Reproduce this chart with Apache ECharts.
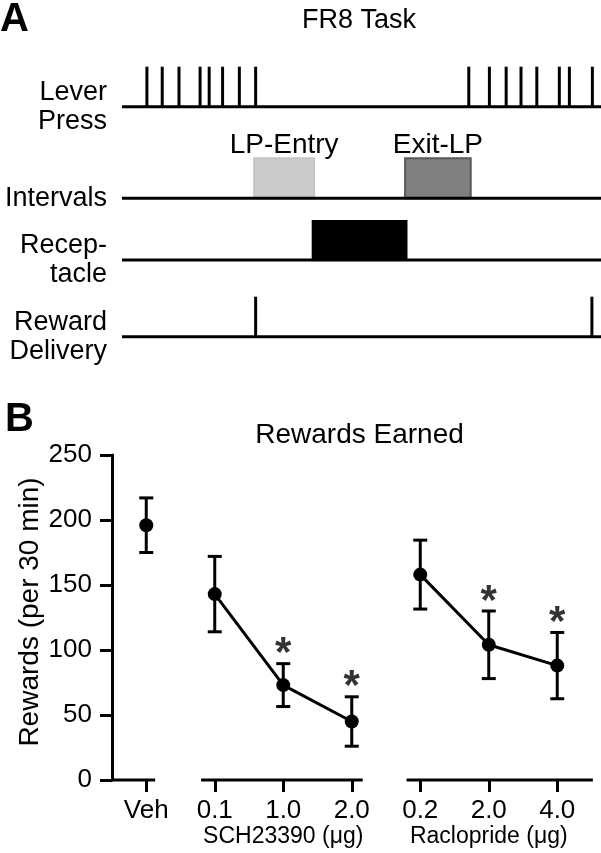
<!DOCTYPE html>
<html><head><meta charset="utf-8">
<script src="https://cdn.jsdelivr.net/npm/echarts@6/dist/echarts.min.js"></script>
<style>html,body{margin:0;padding:0;background:#fff}#c{width:601px;height:853px}</style>
</head><body><div id="c"></div>
<script>
// ---------- Panel A data (schematic time, 0-100) ----------
const leverPressTimes = [5.2, 8.4, 11.9, 16.3, 18.2, 21.0, 24.5, 27.9, 72.4, 76.7, 80.2, 83.3, 86.6, 91.3, 93.4, 98.2];
const intervalNames = ['LP-Entry', 'Exit-LP'];
const intervalStarts = [27.6, 59.1];
const intervalEnds = [40.1, 72.8];
const receptacleStarts = [39.6];
const receptacleEnds = [59.6];
const rewardTimes = [27.9, 98.1];
const rowLabels = ['Lever\nPress', 'Intervals', 'Recep-\ntacle', 'Reward\nDelivery'];

// ---------- Panel B data ----------
const doseLabels = ['Veh', '0.1', '1.0', '2.0', '0.2', '2.0', '4.0'];
const groupLabels = ['', '', 'SCH23390 (μg)', '', '', 'Raclopride (μg)', ''];
const rewardMeans = [196, 143, 73, 45, 158, 104, 88];
const rewardSEM = [21, 29, 16.5, 19, 26.5, 26, 25.5];
const significant = [false, false, true, true, false, true, true];
const doseGroups = [[0], [1, 2, 3], [4, 5, 6]];
const yTickValues = [0, 50, 100, 150, 200, 250];

// ---------- layout / style constants ----------
const FONT = '"Liberation Sans", Arial, Helvetica, sans-serif';
const rowY = [106.7, 198.3, 260, 336.7];   // baseline positions of panel A rows (px space of grid A)
const MARK_H = 40;
const segPad = [[0.5, 0.13], [0.2, 0.16], [0.2, 0.52]];
const intervalFill = ['#cccccc', '#808080'];
const intervalStroke = ['#c4c4c4', '#585858'];

const chart = echarts.init(document.getElementById('c'));

function ln(x1, y1, x2, y2, w) {
  return {type: 'line', shape: {x1, y1, x2, y2}, style: {stroke: '#000', lineWidth: w || 3}};
}
function tx(text, x, y, size, align, extra) {
  return {type: 'text', style: Object.assign({
    text, x, y, font: size + 'px ' + FONT, fill: '#000',
    align: align, textAlign: align, verticalAlign: 'middle', textVerticalAlign: 'middle'
  }, extra || {})};
}

const series = [];

// Panel A: row baselines + labels
series.push({
  type: 'custom', xAxisIndex: 2, yAxisIndex: 1, silent: true, z: 4,
  data: rowLabels.map((l, i) => [0, i]),
  renderItem(params, api) {
    const i = api.value(1);
    const p0 = api.coord([0, rowY[i]]), p1 = api.coord([100, rowY[i]]);
    return {type: 'group', children: [
      ln(p0[0], p0[1], p1[0] + 2, p1[1], 3),
      tx(rowLabels[i], p0[0] - 15, p0[1], 27, 'right', {lineHeight: 29})
    ]};
  }
});
// Lever presses
series.push({
  type: 'custom', xAxisIndex: 2, yAxisIndex: 1, silent: true, z: 3,
  data: leverPressTimes.map(t => [t, 0]),
  renderItem(params, api) {
    const p = api.coord([api.value(0), rowY[api.value(1)]]);
    return ln(p[0], p[1], p[0], p[1] - MARK_H, 3);
  }
});
// Intervals
series.push({
  type: 'custom', xAxisIndex: 2, yAxisIndex: 1, silent: true, z: 2,
  data: intervalStarts.map((s, i) => [s, intervalEnds[i], i]),
  renderItem(params, api) {
    const i = api.value(2);
    const a = api.coord([api.value(0), rowY[1]]), b = api.coord([api.value(1), rowY[1]]);
    return {type: 'group', children: [
      {type: 'rect', shape: {x: a[0], y: a[1] - MARK_H, width: b[0] - a[0], height: MARK_H},
       style: {fill: intervalFill[i], stroke: intervalStroke[i], lineWidth: 2}},
      tx(intervalNames[i], (a[0] + b[0]) / 2, a[1] - MARK_H - 13, 28, 'center')
    ]};
  }
});
// Receptacle
series.push({
  type: 'custom', xAxisIndex: 2, yAxisIndex: 1, silent: true, z: 2,
  data: receptacleStarts.map((s, i) => [s, receptacleEnds[i]]),
  renderItem(params, api) {
    const a = api.coord([api.value(0), rowY[2]]), b = api.coord([api.value(1), rowY[2]]);
    return {type: 'rect', shape: {x: a[0], y: a[1] - MARK_H, width: b[0] - a[0], height: MARK_H},
      style: {fill: '#000'}};
  }
});
// Reward delivery
series.push({
  type: 'custom', xAxisIndex: 2, yAxisIndex: 1, silent: true, z: 3,
  data: rewardTimes.map(t => [t, 3]),
  renderItem(params, api) {
    const p = api.coord([api.value(0), rowY[api.value(1)]]);
    return ln(p[0], p[1], p[0], p[1] - MARK_H, 3);
  }
});

// Panel B: axis segments
doseGroups.forEach((g, k) => {
  series.push({
    type: 'line', xAxisIndex: 1, yAxisIndex: 0, silent: true, clip: false, symbol: 'none', z: 3,
    lineStyle: {color: '#000', width: 3},
    data: [[g[0] - segPad[k][0], 0], [g[g.length - 1] + segPad[k][1], 0]]
  });
});
// error bars
series.push({
  type: 'custom', xAxisIndex: 1, yAxisIndex: 0, silent: true, z: 4,
  encode: {x: 0, y: 1},
  data: rewardMeans.map((m, i) => [i, m, rewardSEM[i]]),
  renderItem(params, api) {
    const x = api.value(0), m = api.value(1), e = api.value(2);
    const t = api.coord([x, m + e]), b = api.coord([x, m - e]);
    const hw = 7;
    return {type: 'group', children: [
      ln(t[0], t[1], b[0], b[1], 3),
      ln(t[0] - hw, t[1], t[0] + hw, t[1], 3),
      ln(b[0] - hw, b[1], b[0] + hw, b[1], 3)
    ]};
  }
});
// means + connecting lines
doseGroups.forEach(g => {
  series.push({
    type: 'line', xAxisIndex: 1, yAxisIndex: 0, silent: true, z: 5,
    symbol: 'circle', symbolSize: 14, showSymbol: true,
    itemStyle: {color: '#000'}, lineStyle: {color: '#000', width: 3},
    data: g.map(i => [i, rewardMeans[i]])
  });
});
// significance asterisks
series.push({
  type: 'scatter', xAxisIndex: 1, yAxisIndex: 0, silent: true, z: 6,
  symbolSize: 1, itemStyle: {color: 'rgba(0,0,0,0)'},
  data: rewardMeans.map((m, i) => significant[i] ? [i, m + rewardSEM[i]] : null).filter(d => d),
  label: {show: true, position: 'inside', formatter: '*', fontSize: 42, fontWeight: 'bold', fontFamily: FONT, color: '#000', offset: [0, -9]}
});

const yName = tx('Rewards (per 30 min)', 0, 0, 28, 'center');
yName.x = 30; yName.y = 612; yName.rotation = Math.PI / 2;

const option = {
  animation: false,
  backgroundColor: '#fff',
  grid: [
    {left: 112, top: 455, width: 479.5, height: 325},
    {left: 122, top: 0, width: 479, height: 360}
  ],
  xAxis: [
    {type: 'category', gridIndex: 0, data: doseLabels, boundaryGap: true,
     axisLine: {show: false, onZero: false},
     axisTick: {show: true, alignWithLabel: true, interval: 0, length: 12, lineStyle: {color: '#000', width: 3}},
     axisLabel: {interval: 0, margin: 18, fontSize: 26, lineHeight: 26, color: '#000', fontFamily: FONT,
       formatter: (v, idx) => groupLabels[idx] ? v + '\n{sub|' + groupLabels[idx] + '}' : v,
       rich: {sub: {fontSize: 23, lineHeight: 26, color: '#000', fontFamily: FONT}}},
     splitLine: {show: false}},
    {type: 'value', gridIndex: 0, min: -0.5, max: 6.5, show: false, axisLine: {onZero: false}},
    {type: 'value', gridIndex: 1, min: 0, max: 100, show: false, axisLine: {onZero: false}}
  ],
  yAxis: [
    {type: 'value', gridIndex: 0, min: yTickValues[0], max: yTickValues[yTickValues.length - 1], interval: 50,
     axisLine: {show: true, onZero: false, lineStyle: {color: '#000', width: 3}},
     axisTick: {show: true, length: 12, lineStyle: {color: '#000', width: 3}},
     axisLabel: {margin: 20, fontSize: 26, color: '#000', fontFamily: FONT},
     splitLine: {show: false}},
    {type: 'value', gridIndex: 1, min: 0, max: 360, inverse: true, show: false, axisLine: {onZero: false}}
  ],
  graphic: [
    tx('A', 0, 20, 40, 'left', {font: 'bold 40px ' + FONT}),
    tx('B', 5, 420, 40, 'left', {font: 'bold 40px ' + FONT}),
    tx('FR8 Task', 359, 21, 27, 'center'),
    tx('Rewards Earned', 359.5, 435, 28, 'center'),
    yName
  ],
  series
};
chart.setOption(option);
</script>
</body></html>
